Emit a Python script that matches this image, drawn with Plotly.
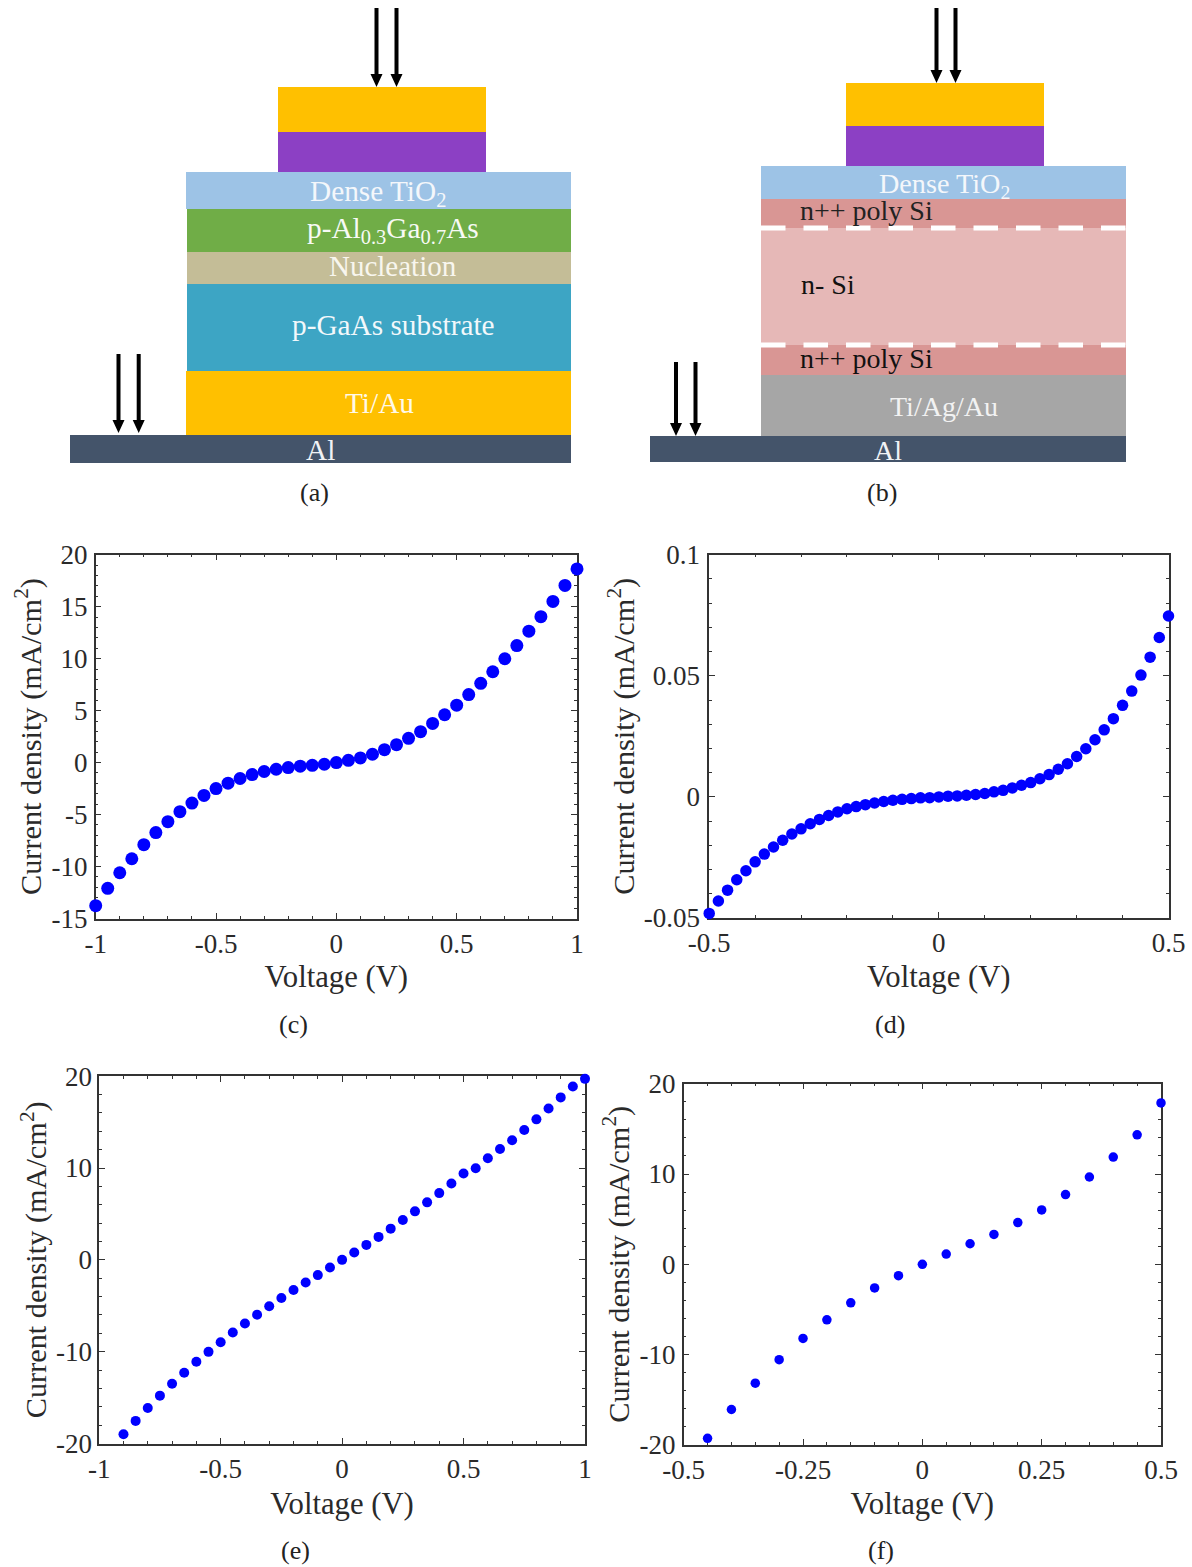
import plotly.graph_objects as go

W, H = 1192, 1567
SCHEM_H = 520
SERIF = "Liberation Serif"
INK = "#2a2a2a"
BLUE = "#0000FF"

# ---------- schematic layers ----------
a_names = ["Au top", "Absorber", "Dense TiO2", "p-AlGaAs", "Nucleation", "p-GaAs", "Ti/Au", "Al"]
a_left = [278, 278, 186, 187, 187, 187, 186, 70]
a_right = [486, 486, 571, 571, 571, 571, 571, 571]
a_top = [87, 132, 172, 209, 252, 284, 371, 435]
a_bottom = [132, 172, 209, 252, 284, 371, 435, 463]
a_colors = ["#FFC000", "#8C40C4", "#9DC3E6", "#70AD47", "#C4BD97", "#3DA5C4", "#FFC000", "#44546A"]

b_names = ["Au top", "Absorber", "Dense TiO2", "n++ poly Si", "n- Si", "n++ poly Si", "Ti/Ag/Au", "Al"]
b_left = [846, 846, 761, 761, 761, 761, 761, 650]
b_right = [1044, 1044, 1126, 1126, 1126, 1126, 1126, 1126]
b_top = [83, 126, 166, 199, 228, 345, 375, 436]
b_bottom = [126, 166, 199, 228, 345, 375, 436, 462]
b_colors = ["#FFC000", "#8C40C4", "#9DC3E6", "#D99694", "#E6B8B7", "#D99694", "#A6A6A6", "#44546A"]

dash_levels = [228, 345]
arrow_x = [376.5, 396.5, 118.5, 138.7, 936.5, 955.5, 676, 695.5]
arrow_tail = [8, 8, 354, 354, 8, 8, 362, 362]
arrow_tip = [87, 87, 433, 433, 83, 83, 436, 436]

labels = ["Dense TiO<sub>2</sub>", "p-Al<sub>0.3</sub>Ga<sub>0.7</sub>As", "Nucleation", "p-GaAs substrate", "Ti/Au", "Al",
          "Dense TiO<sub>2</sub>", "n++ poly Si", "n- Si", "n++ poly Si", "Ti/Ag/Au", "Al"]
label_x = [378, 393, 393, 393, 379, 320, 944, 866, 828, 866, 944, 888]
label_y = [193, 230, 266, 325, 403, 450, 185, 210, 284, 358, 406, 450]
label_size = [29.3, 29.3, 29, 29.3, 29.3, 29.3, 28.2, 28, 28, 28, 28, 28]
label_col = ["#F4F7FB", "#F7FAF5", "#F8F6EE", "#F2F8FB", "#FFF9E8", "#F0F2F5",
             "#F4F7FB", "#222222", "#111111", "#111111", "#F2F2F2", "#F0F2F5"]

captions = ["(a)", "(b)", "(c)", "(d)", "(e)", "(f)"]
cap_x = [314, 882, 293, 890, 295, 881]
cap_y = [493, 493, 1024, 1024, 1550, 1550]

# ---------- panel data ----------
c_v = [-1, -0.95, -0.9, -0.85, -0.8, -0.75, -0.7, -0.65, -0.6, -0.55, -0.5, -0.45, -0.4, -0.35, -0.3, -0.25, -0.2,
       -0.15, -0.1, -0.05, 0, 0.05, 0.1, 0.15, 0.2, 0.25, 0.3, 0.35, 0.4, 0.45, 0.5, 0.55, 0.6, 0.65, 0.7, 0.75,
       0.8, 0.85, 0.9, 0.95, 1]
c_j = [-13.77, -12.1, -10.6, -9.25, -7.9, -6.73, -5.68, -4.72, -3.9, -3.16, -2.5, -1.98, -1.53, -1.15, -0.86, -0.64,
       -0.48, -0.35, -0.26, -0.16, 0, 0.22, 0.45, 0.8, 1.24, 1.72, 2.33, 2.97, 3.77, 4.6, 5.52, 6.54, 7.63, 8.74,
       9.99, 11.26, 12.64, 14.04, 15.5, 17.04, 18.63]

d_v = [-0.5, -0.48, -0.46, -0.44, -0.42, -0.4, -0.38, -0.36, -0.34, -0.32, -0.3, -0.28, -0.26, -0.24, -0.22, -0.2,
       -0.18, -0.16, -0.14, -0.12, -0.1, -0.08, -0.06, -0.04, -0.02, 0, 0.02, 0.04, 0.06, 0.08, 0.1, 0.12, 0.14,
       0.16, 0.18, 0.2, 0.22, 0.24, 0.26, 0.28, 0.3, 0.32, 0.34, 0.36, 0.38, 0.4, 0.42, 0.44, 0.46, 0.48, 0.5]
d_j = [-0.0481, -0.043, -0.0385, -0.0342, -0.0305, -0.0268, -0.0236, -0.0207, -0.0179, -0.0153, -0.0132, -0.0111,
       -0.0093, -0.0077, -0.0062, -0.0049, -0.004, -0.0032, -0.0025, -0.0019, -0.0014, -0.001, -0.0007, -0.0004,
       -0.0003, 0, 0.0003, 0.0004, 0.0007, 0.001, 0.0014, 0.0021, 0.0027, 0.0037, 0.0048, 0.0059, 0.0075, 0.0092,
       0.0114, 0.0137, 0.0167, 0.0199, 0.0236, 0.0277, 0.0323, 0.0378, 0.0437, 0.0503, 0.0577, 0.0658, 0.0747]

e_v = [-0.9, -0.85, -0.8, -0.75, -0.7, -0.65, -0.6, -0.55, -0.5, -0.45, -0.4, -0.35, -0.3, -0.25, -0.2, -0.15, -0.1,
       -0.05, 0, 0.05, 0.1, 0.15, 0.2, 0.25, 0.3, 0.35, 0.4, 0.45, 0.5, 0.55, 0.6, 0.65, 0.7, 0.75, 0.8, 0.85, 0.9,
       0.95, 1]
e_j = [-18.99, -17.54, -16.13, -14.79, -13.49, -12.3, -11.1, -10.02, -8.97, -7.92, -6.94, -5.97, -5.06, -4.16, -3.29,
       -2.46, -1.66, -0.83, 0, 0.8, 1.63, 2.5, 3.4, 4.34, 5.28, 6.26, 7.27, 8.32, 9.4, 9.98, 11.07, 12.08, 13.02,
       14.14, 15.3, 16.49, 17.69, 18.88, 19.71]

f_v = [-0.45, -0.4, -0.35, -0.3, -0.25, -0.2, -0.15, -0.1, -0.05, 0, 0.05, 0.1, 0.15, 0.2, 0.25, 0.3, 0.35, 0.4,
       0.45, 0.5]
f_j = [-19.26, -16.07, -13.16, -10.55, -8.2, -6.14, -4.26, -2.61, -1.25, 0, 1.14, 2.28, 3.31, 4.63, 6.03, 7.72, 9.67,
       11.88, 14.34, 17.87]

xt_wide = [-1, -0.5, 0, 0.5, 1]
xl_wide = ["-1", "-0.5", "0", "0.5", "1"]
xt_d = [-0.5, 0, 0.5]
xl_d = ["-0.5", "0", "0.5"]
xt_f = [-0.5, -0.25, 0, 0.25, 0.5]
xl_f = ["-0.5", "-0.25", "0", "0.25", "0.5"]
yt_c = [-15, -10, -5, 0, 5, 10, 15, 20]
yl_c = ["-15", "-10", "-5", "0", "5", "10", "15", "20"]
yt_d = [-0.05, 0, 0.05, 0.1]
yl_d = ["-0.05", "0", "0.05", "0.1"]
yt_ef = [-20, -10, 0, 10, 20]
yl_ef = ["-20", "-10", "0", "10", "20"]

panels = [
    dict(v=c_v, j=c_j, px=(95.7, 577), py=(554.7, 918.5), xr=(-1, 1), yr=(-15, 20), xt=xt_wide, xl=xl_wide, yt=yt_c, yl=yl_c,
         xm=0.1, ym=1, ms=13, xo=8, ys=1, yo=1),
    dict(v=d_v, j=d_j, px=(709.2, 1168.5), py=(554.7, 918), xr=(-0.5, 0.5), yr=(-0.05, 0.1), xt=xt_d, xl=xl_d, yt=yt_d, yl=yl_d,
         xm=0.1, ym=0.01, ms=11.5, xo=8, ys=2, yo=0),
    dict(v=e_v, j=e_j, px=(99.2, 585), py=(1076.2, 1443.5), xr=(-1, 1), yr=(-20, 20), xt=xt_wide, xl=xl_wide, yt=yt_ef, yl=yl_ef,
         xm=0.1, ym=2, ms=10, xo=10, ys=0, yo=0),
    dict(v=f_v, j=f_j, px=(683.7, 1161), py=(1083.7, 1445), xr=(-0.5, 0.5), yr=(-20, 20), xt=xt_f, xl=xl_f, yt=yt_ef, yl=yl_ef,
         xm=0.05, ym=2, ms=9.5, xo=8, ys=1, yo=1),
]

fig = go.Figure()
layout = dict(width=W, height=H, margin=dict(l=0, r=0, t=0, b=0, autoexpand=False), paper_bgcolor="white", plot_bgcolor="white",
              showlegend=False, barmode="overlay", hovermode=False, font=dict(family=SERIF, color=INK))

# ---------- schematics (pixel-like data axes across the top band) ----------
layout["xaxis"] = dict(domain=[0, 1], range=[0, W], visible=False, automargin=False)
layout["yaxis"] = dict(domain=[1 - SCHEM_H / H, 1], range=[SCHEM_H, 0], visible=False, automargin=False)

for names, left, right, top, bottom, colors in [(a_names, a_left, a_right, a_top, a_bottom, a_colors),
                                                (b_names, b_left, b_right, b_top, b_bottom, b_colors)]:
    fig.add_trace(go.Bar(
        x=[(l + r) / 2 for l, r in zip(left, right)],
        y=[b - t for t, b in zip(top, bottom)],
        base=top,
        width=[r - l for l, r in zip(left, right)],
        marker=dict(color=colors, line=dict(width=0)),
        text=None, hovertext=names, xaxis="x", yaxis="y"))

for lvl in dash_levels:
    fig.add_trace(go.Scatter(x=[b_left[3], b_right[3]], y=[lvl, lvl], mode="lines",
                             line=dict(color="white", width=5, dash="24.5px,18px"), xaxis="x", yaxis="y"))

for ax_, t0, t1 in zip(arrow_x, arrow_tail, arrow_tip):
    head = 13
    fig.add_trace(go.Scatter(
        x=[ax_ - 2, ax_ + 2, ax_ + 2, ax_ + 6, ax_, ax_ - 6, ax_ - 2, ax_ - 2],
        y=[t0, t0, t1 - head, t1 - head, t1, t1 - head, t1 - head, t0],
        mode="lines", fill="toself", fillcolor="black", line=dict(width=0, color="black"),
        xaxis="x", yaxis="y"))

annotations = []
for t, x, y, col, s in zip(labels, label_x, label_y, label_col, label_size):
    annotations.append(dict(text=t, x=x, y=y, xref="x", yref="y", showarrow=False, xanchor="center", yanchor="middle",
                            font=dict(family=SERIF, size=s, color=col)))
for t, x, y in zip(captions, cap_x, cap_y):
    annotations.append(dict(text=t, x=x / W, y=1 - y / H, xref="paper", yref="paper", showarrow=False,
                            xanchor="center", yanchor="middle", font=dict(family=SERIF, size=26, color="#222222")))

# ---------- measured panels ----------
for i, p in enumerate(panels):
    n = i + 2
    xa, ya = f"xaxis{n}", f"yaxis{n}"
    common = dict(showline=True, linecolor="#333333", linewidth=1.5, mirror="ticks", ticks="inside", ticklen=6,
                  tickwidth=1.3, tickcolor="#333333", showgrid=False, zeroline=False, automargin=False,
                  layer="below traces", tickfont=dict(family=SERIF, size=27, color=INK))
    layout[xa] = dict(common, domain=[p["px"][0] / W, p["px"][1] / W], range=list(p["xr"]), anchor=f"y{n}",
                      tickmode="array", tickvals=p["xt"], ticktext=p["xl"], ticklabelstandoff=0,
                      title=dict(text="Voltage (V)", font=dict(family=SERIF, size=30.7, color=INK), standoff=p["xo"]),
                      minor=dict(ticks="inside", ticklen=3, tickwidth=1.1, tickcolor="#333333", dtick=p["xm"], tick0=0))
    layout[ya] = dict(common, domain=[1 - p["py"][1] / H, 1 - p["py"][0] / H], range=list(p["yr"]), anchor=f"x{n}",
                      tickmode="array", tickvals=p["yt"], ticktext=p["yl"], ticklabelstandoff=p["ys"],
                      title=dict(text="Current density (mA/cm<sup>2</sup>)", font=dict(family=SERIF, size=30.3, color=INK),
                                 standoff=p["yo"]),
                      minor=dict(ticks="inside", ticklen=3, tickwidth=1.1, tickcolor="#333333", dtick=p["ym"], tick0=0))
    fig.add_trace(go.Scatter(x=p["v"], y=p["j"], mode="markers", cliponaxis=False,
                             marker=dict(color=BLUE, size=p["ms"], line=dict(width=0)),
                             xaxis=f"x{n}", yaxis=f"y{n}"))

layout["annotations"] = annotations
fig.update_layout(**layout)
fig.write_html("out.html", config={"displayModeBar": False},
               post_script="document.body.style.margin='0';document.documentElement.style.overflow='hidden';")
